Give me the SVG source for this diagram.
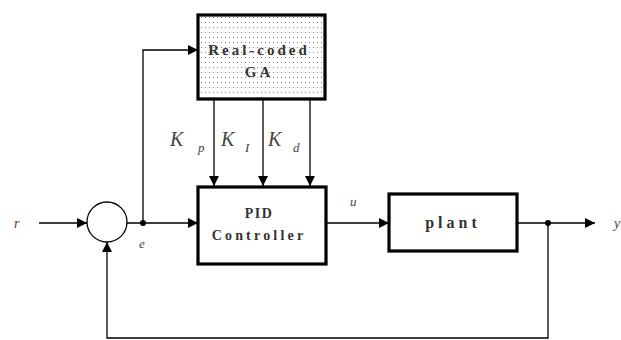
<svg xmlns="http://www.w3.org/2000/svg" width="621" height="340" viewBox="0 0 621 340">
<defs>
<style>
.box{fill:#fff;stroke:#000;stroke-width:3.2}
.ln{fill:none;stroke:#000;stroke-width:1.3}
.mono{font-family:"Liberation Serif","Times New Roman",serif;font-weight:bold;fill:#333;text-anchor:middle}
.it{font-family:"Liberation Serif","Times New Roman",serif;font-style:italic;fill:#444}
</style>
<pattern id="dots" width="4" height="5" patternUnits="userSpaceOnUse">
<rect width="4" height="5" fill="#fff"/>
<rect x="1" y="2" width="1" height="1" fill="#888"/>
</pattern>
<marker id="ah" viewBox="0 0 10 10" refX="10" refY="5" markerWidth="10" markerHeight="10" markerUnits="userSpaceOnUse" orient="auto">
<path d="M0,0 L10,5 L0,10 z" fill="#000"/>
</marker>
</defs>
<rect width="621" height="340" fill="#fff"/>
<g id="connectors">
<line class="ln" x1="39" y1="223" x2="87" y2="223" marker-end="url(#ah)"/>
<line class="ln" x1="127" y1="223" x2="198" y2="223" marker-end="url(#ah)"/>
<polyline class="ln" points="143,223 143,50 198,50" marker-end="url(#ah)"/>
<line class="ln" x1="214" y1="99" x2="214" y2="186" marker-end="url(#ah)"/>
<line class="ln" x1="263" y1="99" x2="263" y2="186" marker-end="url(#ah)"/>
<line class="ln" x1="310" y1="99" x2="310" y2="186" marker-end="url(#ah)"/>
<line class="ln" x1="326" y1="223" x2="389" y2="223" marker-end="url(#ah)"/>
<line class="ln" x1="517" y1="223" x2="595" y2="223" marker-end="url(#ah)"/>
<polyline class="ln" points="548,223 548,338 107,338 107,242" marker-end="url(#ah)"/>
<circle cx="143" cy="223" r="3" fill="#000"/>
<circle cx="548" cy="223" r="3" fill="#000"/>
</g>
<g id="sum">
<circle cx="107" cy="222" r="20" fill="#fff" stroke="#000" stroke-width="1.3"/>
</g>
<g id="ga">
<rect class="box" x="198" y="15" width="127" height="84" style="fill:url(#dots)"/>
<text class="mono" x="259" y="55" font-size="15" letter-spacing="3">Real-coded</text>
<text class="mono" x="259" y="77" font-size="15" letter-spacing="3">GA</text>
</g>
<g id="pid">
<rect class="box" x="198" y="187" width="128" height="77"/>
<text class="mono" x="259" y="218" font-size="14" letter-spacing="1.5">PID</text>
<text class="mono" x="259" y="240" font-size="14" letter-spacing="3.2">Controller</text>
</g>
<g id="plant">
<rect class="box" x="389" y="194" width="128" height="57"/>
<text class="mono" x="453" y="228" font-size="16" letter-spacing="4">plant</text>
</g>
<g id="labels">
<text class="it" x="170" y="146" font-size="20">K</text>
<text class="it" x="198" y="152" font-size="13">p</text>
<text class="it" x="221" y="146" font-size="20">K</text>
<text class="it" x="245" y="152" font-size="13">I</text>
<text class="it" x="268" y="146" font-size="20">K</text>
<text class="it" x="293" y="152" font-size="13">d</text>
<text class="it" x="14" y="228" font-size="14">r</text>
<text class="it" x="139" y="248" font-size="13">e</text>
<text class="it" x="350" y="206" font-size="13">u</text>
<text class="it" x="614" y="228" font-size="14">y</text>
</g>
</svg>
